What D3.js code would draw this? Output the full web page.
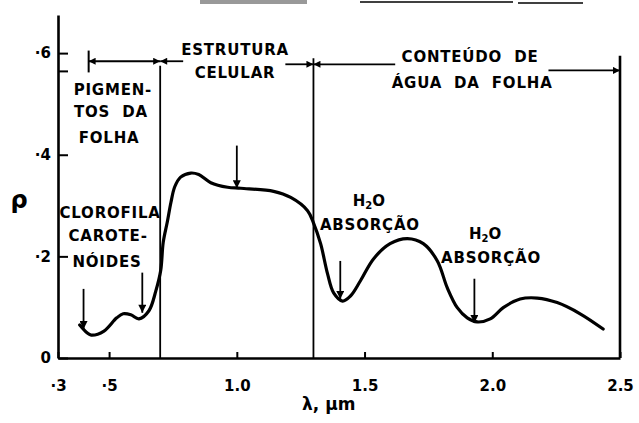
<!DOCTYPE html>
<html>
<head>
<meta charset="utf-8">
<script src="https://cdn.jsdelivr.net/npm/d3@7"></script>
<style>
  body { margin: 0; background: #fff; }
  svg text { font-family: "DejaVu Sans", sans-serif; font-weight: bold; fill: #000; white-space: pre; }
</style>
</head>
<body>
<div id="chart-area"></div>
<script>
// leaf reflectance curve (wavelength in µm, reflectance 0-1)
var wavelength = [0.385, 0.415, 0.43, 0.48, 0.53, 0.555, 0.585, 0.617, 0.656, 0.683,
    0.702, 0.712, 0.728, 0.742, 0.757, 0.78, 0.82, 0.851, 0.898, 0.964, 1.015,
    1.144, 1.211, 1.277, 1.30, 1.328, 1.355, 1.379, 1.414, 1.445, 1.484,
    1.535, 1.60, 1.668, 1.73, 1.785, 1.824, 1.863, 1.902, 1.941, 1.992,
    2.043, 2.109, 2.176, 2.254, 2.344, 2.434];
var reflectance = [0.065, 0.049, 0.045, 0.053, 0.079, 0.087, 0.085, 0.077, 0.093, 0.132,
    0.172, 0.228, 0.268, 0.306, 0.337, 0.356, 0.364, 0.361, 0.345, 0.336, 0.334,
    0.328, 0.316, 0.290, 0.266, 0.225, 0.166, 0.128, 0.112, 0.122, 0.152,
    0.195, 0.225, 0.235, 0.225, 0.191, 0.138, 0.099, 0.079, 0.071, 0.077,
    0.099, 0.116, 0.118, 0.109, 0.087, 0.057];

var xTicks = [0.3, 0.5, 1.0, 1.5, 2.0, 2.5];
var xTickLabels = ['·3', '·5', '1.0', '1.5', '2.0', '2.5'];
var yTicks = [0, 0.2, 0.4, 0.565, 0.6];
var yTickLabels = ['0', '·2', '·4', '', '·6'];

// region limits (µm)
var regionLimits = [0.7, 1.3, 2.5];

// absorption arrows: wavelength, from / to reflectance
var arrowAt = [0.40, 0.63, 1.0, 1.405, 1.93];
var arrowFrom = [0.136, 0.168, 0.418, 0.191, 0.156];
var arrowTo = [0.057, 0.089, 0.334, 0.116, 0.069];

var width = 639;
var height = 423;

var svg = d3.select('#chart-area')
    .append('svg')
        .attr('width', width)
        .attr('height', height);

// scan marks along the top edge
svg.append('rect').attr('x', 200).attr('y', 0).attr('width', 107).attr('height', 4).attr('fill', '#999');
svg.append('line').attr('x1', 360).attr('x2', 513).attr('y1', 2).attr('y2', 2).attr('stroke', '#000').attr('stroke-width', 1.5);
svg.append('line').attr('x1', 518).attr('x2', 583).attr('y1', 3).attr('y2', 3).attr('stroke', '#000').attr('stroke-width', 1.5);

var defs = svg.append('defs');
defs.append('marker')
    .attr('id', 'head')
    .attr('viewBox', '0 0 10 10')
    .attr('refX', 10).attr('refY', 5)
    .attr('markerWidth', 11).attr('markerHeight', 7)
    .attr('markerUnits', 'userSpaceOnUse')
    .attr('orient', 'auto-start-reverse')
    .append('path').attr('d', 'M0,0 L10,5 L0,10 z').attr('fill', '#000');
defs.append('marker')
    .attr('id', 'down')
    .attr('viewBox', '0 0 10 10')
    .attr('refX', 10).attr('refY', 5)
    .attr('markerWidth', 9).attr('markerHeight', 8)
    .attr('markerUnits', 'userSpaceOnUse')
    .attr('orient', 'auto')
    .append('path').attr('d', 'M0,0 L10,5 L0,10 z').attr('fill', '#000');

var x = d3.scaleLinear()
    .domain([0.3, 2.5])
    .range([58, 620]);

var y = d3.scaleLinear()
    .domain([0, 0.675])
    .range([358, 15]);

// region limit lines
var limitTop = [0.575, 0.59, 0.595];
svg.selectAll('.limit').data(regionLimits)
    .enter().append('line')
        .attr('class', 'limit')
        .attr('x1', (d) => x(d)).attr('x2', (d) => x(d))
        .attr('y1', (d, i) => y(limitTop[i]))
        .attr('y2', y(0))
        .attr('stroke', '#000')
        .attr('stroke-width', (d, i) => i == 2 ? 2.6 : 1.8);

// X axis
var xAxisCall = d3.axisBottom(x)
    .tickValues(xTicks)
    .tickSize(-6)
    .tickSizeOuter(0)
    .tickPadding(22)
    .tickFormat((d, i) => xTickLabels[i]);
var xAxis = svg.append('g')
    .attr('transform', 'translate(0,' + y(0) + ')')
    .call(xAxisCall);

// Y axis
var yAxisCall = d3.axisLeft(y)
    .tickValues(yTicks)
    .tickSize(-10)
    .tickSizeOuter(0)
    .tickPadding(7)
    .tickFormat((d, i) => yTickLabels[i]);
var yAxis = svg.append('g')
    .attr('transform', 'translate(' + x(0.3) + ',0)')
    .call(yAxisCall);

[xAxis, yAxis].forEach((g) => {
    g.select('.domain').attr('stroke-width', 2.6);
    g.selectAll('.tick line').attr('stroke-width', 2);
    g.selectAll('.tick text')
        .attr('font-size', '15px')
        .attr('font-family', 'DejaVu Sans')
        .attr('font-weight', 'bold');
});

// axis titles
svg.append('text')
    .attr('x', 19).attr('y', y(0.295))
    .attr('text-anchor', 'middle')
    .attr('font-size', '24px')
    .text('ρ');
svg.append('text')
    .attr('x', x(1.36)).attr('y', 410)
    .attr('text-anchor', 'middle')
    .attr('font-size', '17px')
    .text('λ, μm');

// region dimension arrows
var dims = [
    [0.42, 0.70, 0.584, true, true],
    [0.70, 0.79, 0.584, true, false],
    [1.19, 1.30, 0.578, false, true],
    [1.30, 1.62, 0.578, true, false],
    [2.22, 2.50, 0.566, false, true]
];
svg.selectAll('.dim').data(dims)
    .enter().append('line')
        .attr('class', 'dim')
        .attr('x1', (d) => x(d[0])).attr('x2', (d) => x(d[1]))
        .attr('y1', (d) => y(d[2])).attr('y2', (d) => y(d[2]))
        .attr('stroke', '#000')
        .attr('stroke-width', 1.8)
        .attr('marker-start', (d) => d[3] ? 'url(#head)' : null)
        .attr('marker-end', (d) => d[4] ? 'url(#head)' : null);
svg.append('line')
    .attr('x1', x(0.42)).attr('x2', x(0.42))
    .attr('y1', y(0.605)).attr('y2', y(0.562))
    .attr('stroke', '#000').attr('stroke-width', 2);

// absorption arrows
svg.selectAll('.absarrow').data(arrowAt)
    .enter().append('line')
        .attr('class', 'absarrow')
        .attr('x1', (d) => x(d)).attr('x2', (d) => x(d))
        .attr('y1', (d, i) => y(arrowFrom[i]))
        .attr('y2', (d, i) => y(arrowTo[i]))
        .attr('stroke', '#000')
        .attr('stroke-width', 1.8)
        .attr('marker-end', 'url(#down)');

// reflectance curve
var line = d3.line()
    .x((d) => x(d[0]))
    .y((d) => y(d[1]))
    .curve(d3.curveCatmullRom.alpha(0.5));
svg.append('path')
    .datum(d3.zip(wavelength, reflectance))
    .attr('fill', 'none')
    .attr('stroke', '#000')
    .attr('stroke-width', 3.2)
    .attr('stroke-linecap', 'round')
    .attr('d', line);

// annotations
var notes = [
    ['ESTRUTURA', 0.993, 0.596],
    ['CELULAR', 0.993, 0.551],
    ['PIGMEN-', 0.515, 0.517],
    ['TOS  DA', 0.507, 0.474],
    ['FOLHA', 0.50, 0.424],
    ['CONTEÚDO  DE', 1.913, 0.582],
    ['ÁGUA  DA  FOLHA', 1.921, 0.531],
    ['CLOROFILA', 0.504, 0.276],
    ['CAROTE-', 0.496, 0.231],
    ['NÓIDES', 0.492, 0.180],
    ['ABSORÇÃO', 1.521, 0.251],
    ['ABSORÇÃO', 1.995, 0.187]
];
svg.selectAll('.note').data(notes)
    .enter().append('text')
        .attr('class', 'note')
        .attr('x', (d) => x(d[1]))
        .attr('y', (d) => y(d[2]))
        .attr('text-anchor', 'middle')
        .attr('font-size', '15px')
        .attr('letter-spacing', '0.8px')
        .text((d) => d[0]);

// H2O labels
var water = [[1.517, 0.300], [1.972, 0.235]];
water.forEach((w) => {
    var t = svg.append('text')
        .attr('x', x(w[0])).attr('y', y(w[1]))
        .attr('text-anchor', 'middle')
        .attr('font-size', '15px');
    t.append('tspan').text('H');
    t.append('tspan').attr('font-size', '10px').attr('dy', 3).text('2');
    t.append('tspan').attr('dy', -3).text('O');
});
</script>
</body>
</html>
